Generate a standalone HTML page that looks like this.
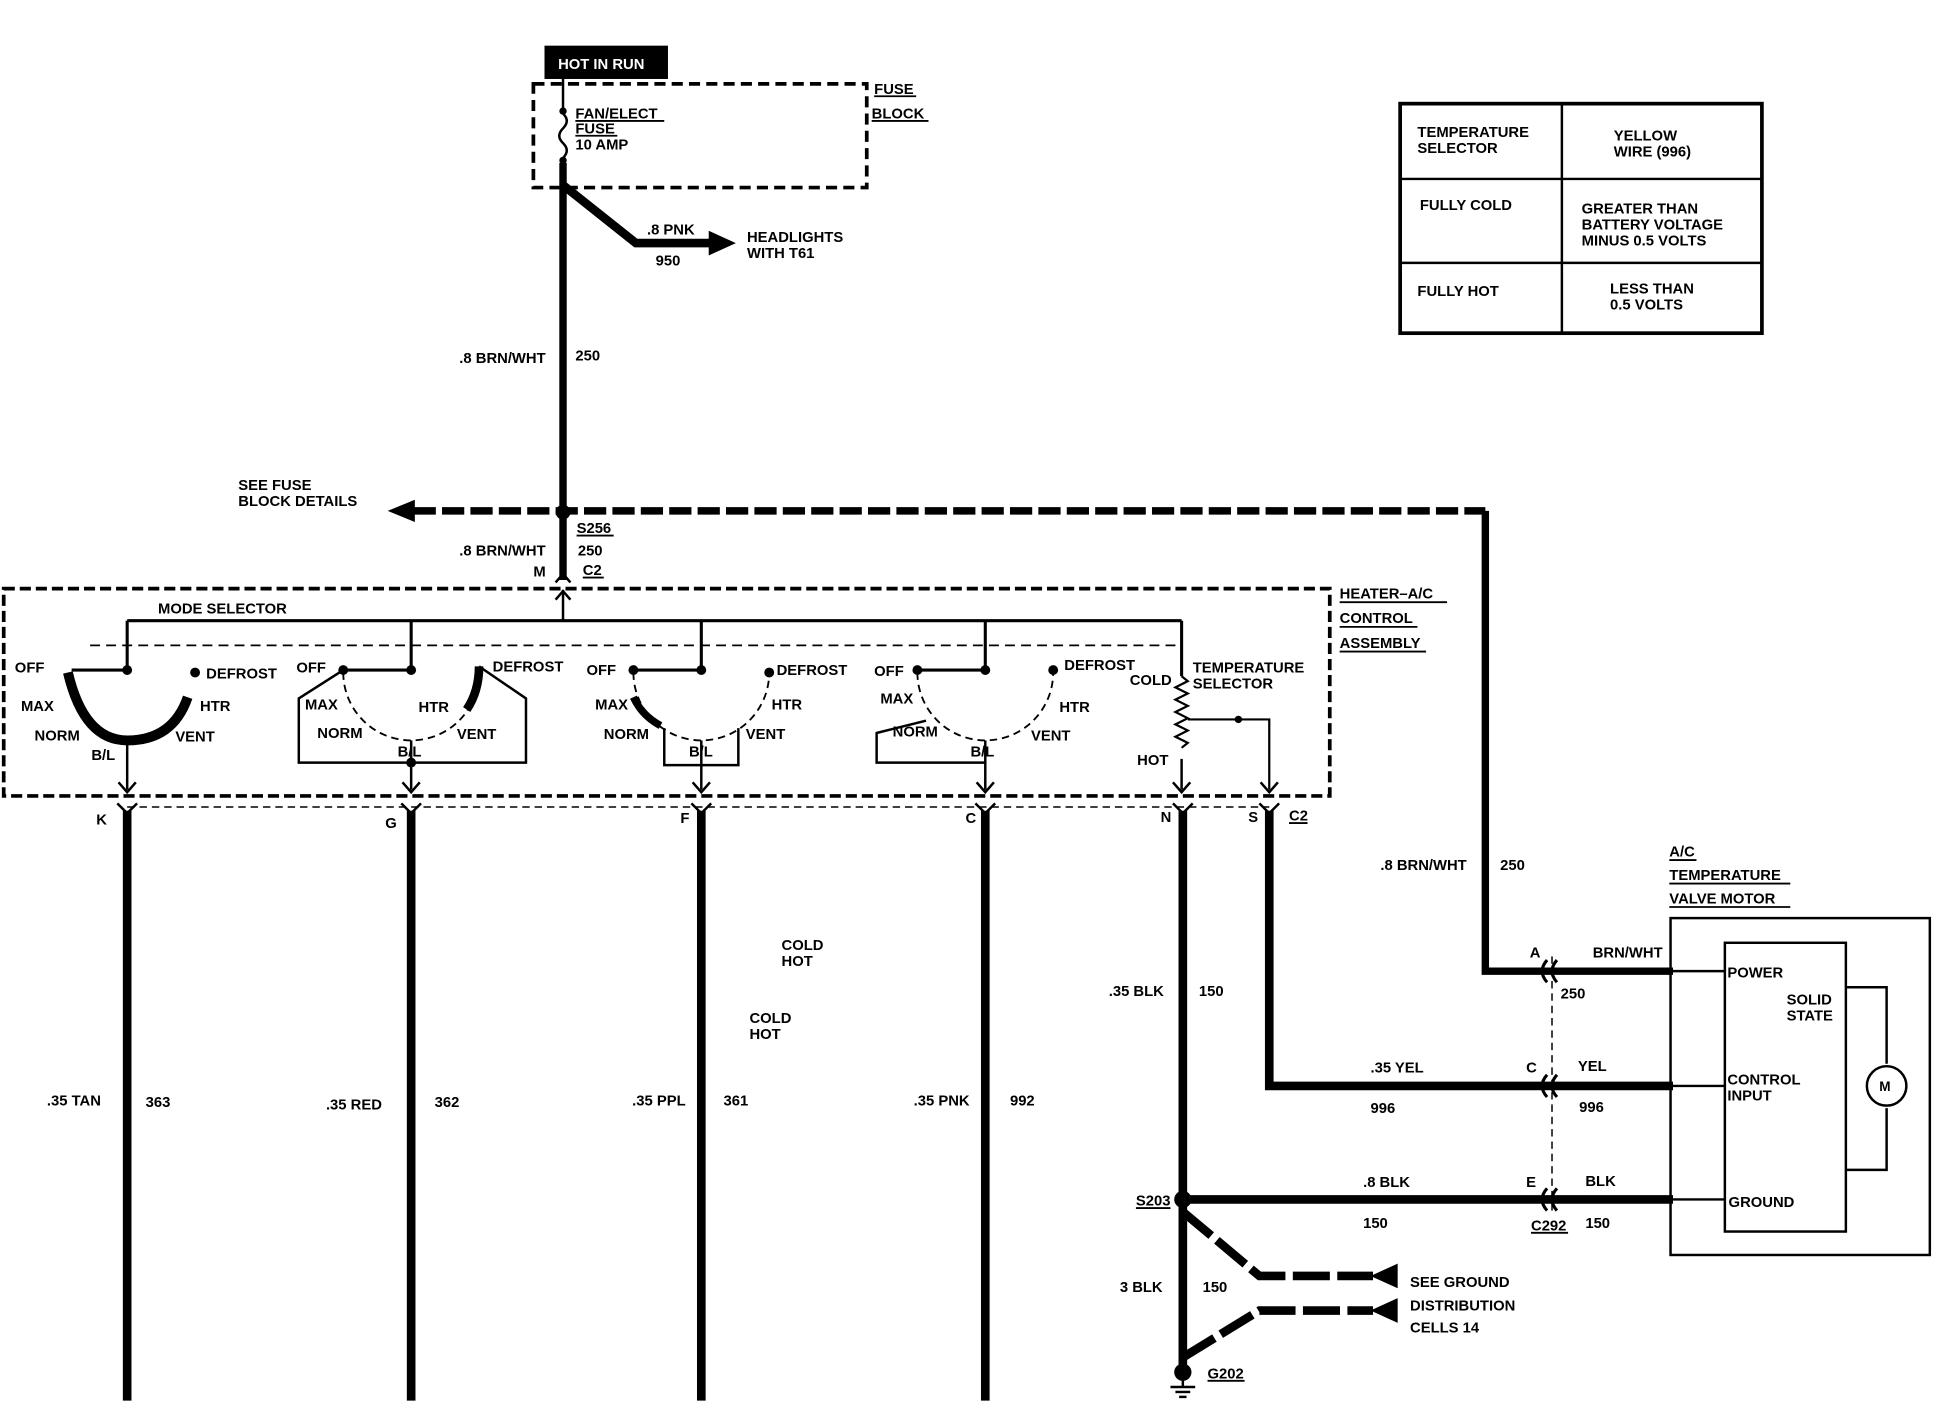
<!DOCTYPE html>
<html><head><meta charset="utf-8"><style>
html,body{margin:0;padding:0;background:#fff}
svg{display:block}
text{font-family:"Liberation Sans",Arial,sans-serif;font-weight:bold;font-size:12px;fill:#000}
</style></head><body>
<svg width="1936" height="1408" viewBox="0 0 1568 1141" preserveAspectRatio="none" xmlns="http://www.w3.org/2000/svg">
<rect width="1568" height="1141" fill="#fff"/>
<rect x="441" y="37" width="100" height="27" fill="#000"/>
<text x="452" y="56" style="fill:#fff">HOT IN RUN</text>
<rect x="432" y="68" width="270" height="84" fill="none" stroke="#000" stroke-width="3" stroke-dasharray="9,5"/>
<text x="708" y="76">FUSE</text><line x1="708" y1="78" x2="742" y2="78" stroke="#000" stroke-width="1.5"/>
<text x="706" y="96">BLOCK</text><line x1="706" y1="98" x2="752" y2="98" stroke="#000" stroke-width="1.5"/>
<line x1="456" y1="64" x2="456" y2="88" stroke="#000" stroke-width="2"/>
<circle cx="456" cy="90" r="3"/>
<path d="M456 92 q6 6 0 12 q-6 6 0 12 q6 6 0 12" fill="none" stroke="#000" stroke-width="2"/>
<circle cx="456" cy="130" r="3"/>
<text x="466" y="96">FAN/ELECT</text><line x1="466" y1="98" x2="538" y2="98" stroke="#000" stroke-width="1.5"/>
<text x="466" y="108">FUSE</text><line x1="466" y1="110" x2="500" y2="110" stroke="#000" stroke-width="1.5"/>
<text x="466" y="121">10 AMP</text>
<line x1="456" y1="132" x2="456" y2="470" stroke="#000" stroke-width="6"/>
<path d="M456 150 L515 197 L578 197" fill="none" stroke="#000" stroke-width="7"/>
<polygon points="574,187 596,197 574,207" fill="#000"/>
<text x="524" y="190">.8 PNK</text>
<text x="531" y="215">950</text>
<text x="605" y="196">HEADLIGHTS</text>
<text x="605" y="209">WITH T61</text>
<text x="372" y="294">.8 BRN/WHT</text>
<text x="466" y="292">250</text>
<line x1="335" y1="414" x2="1203" y2="414" stroke="#000" stroke-width="6" stroke-dasharray="18,5"/>
<polygon points="314,414 336,405 336,423" fill="#000"/>
<polyline points="1203,414 1203,787 1355,787" fill="none" stroke="#000" stroke-width="6"/>
<circle cx="456" cy="415" r="6"/>
<text x="193" y="397">SEE FUSE</text>
<text x="193" y="410">BLOCK DETAILS</text>
<text x="467" y="432">S256</text><line x1="467" y1="434" x2="497" y2="434" stroke="#000" stroke-width="1.5"/>
<text x="372" y="450">.8 BRN/WHT</text>
<text x="468" y="450">250</text>
<text x="432" y="467">M</text>
<text x="472" y="466">C2</text><line x1="472" y1="468" x2="489" y2="468" stroke="#000" stroke-width="1.5"/>
<path d="M450 472 L456 465 L462 472" fill="none" stroke="#000" stroke-width="2"/>
<rect x="3" y="477" width="1074" height="168" fill="none" stroke="#000" stroke-width="3" stroke-dasharray="9,4"/>
<text x="1085" y="485">HEATER–A/C</text><line x1="1085" y1="488" x2="1172" y2="488" stroke="#000" stroke-width="1.5"/>
<text x="1085" y="505">CONTROL</text><line x1="1085" y1="508" x2="1148" y2="508" stroke="#000" stroke-width="1.5"/>
<text x="1085" y="525">ASSEMBLY</text><line x1="1085" y1="528" x2="1155" y2="528" stroke="#000" stroke-width="1.5"/>
<text x="128" y="497">MODE SELECTOR</text>
<line x1="103" y1="503" x2="957" y2="503" stroke="#000" stroke-width="2.5"/>
<line x1="456" y1="478" x2="456" y2="503" stroke="#000" stroke-width="2"/>
<path d="M450 486 L456 479 L462 486" fill="none" stroke="#000" stroke-width="2"/>
<line x1="73" y1="523" x2="957" y2="523" stroke="#000" stroke-width="1.5" stroke-dasharray="8,5"/>
<g stroke="#000" stroke-width="2.5" fill="none">
<line x1="103" y1="503" x2="103" y2="543"/><line x1="58" y1="543" x2="103" y2="543"/>
<line x1="333" y1="503" x2="333" y2="543"/><line x1="278" y1="543" x2="333" y2="543"/>
<line x1="568" y1="503" x2="568" y2="543"/><line x1="513" y1="543" x2="568" y2="543"/>
<line x1="798" y1="503" x2="798" y2="543"/><line x1="743" y1="543" x2="798" y2="543"/>
<line x1="957" y1="503" x2="957" y2="548"/>
</g>
<path d="M55 545 Q68 600 103 600 Q140 600 152 565" fill="none" stroke="#000" stroke-width="8"/>
<circle cx="103" cy="543" r="4"/><circle cx="158" cy="545" r="4"/>
<line x1="103" y1="600" x2="103" y2="640" stroke="#000" stroke-width="2"/>
<text x="12" y="545">OFF</text><text x="167" y="550">DEFROST</text><text x="17" y="576">MAX</text><text x="162" y="576">HTR</text><text x="28" y="600">NORM</text><text x="142" y="601">VENT</text><text x="74" y="616">B/L</text>
<polyline points="278,543 242,566 242,618 426,618 426,566 388,540" fill="none" stroke="#000" stroke-width="2"/>
<path d="M278 545 A55 55 0 0 0 388 545" fill="none" stroke="#000" stroke-width="1.5" stroke-dasharray="6,4"/>
<path d="M378 575 Q388 560 388 540" fill="none" stroke="#000" stroke-width="7"/>
<circle cx="278" cy="543" r="4"/><circle cx="333" cy="543" r="4"/><circle cx="333" cy="618" r="4"/>
<line x1="333" y1="600" x2="333" y2="640" stroke="#000" stroke-width="2"/>
<text x="240" y="545">OFF</text><text x="399" y="544">DEFROST</text><text x="247" y="575">MAX</text><text x="339" y="577">HTR</text><text x="257" y="598">NORM</text><text x="370" y="599">VENT</text><text x="322" y="613">B/L</text>
<path d="M513 545 A55 55 0 0 0 623 545" fill="none" stroke="#000" stroke-width="1.5" stroke-dasharray="6,4"/>
<path d="M513 565 Q520 580 535 588" fill="none" stroke="#000" stroke-width="6"/>
<polyline points="538,590 538,620 598,620 598,590" fill="none" stroke="#000" stroke-width="2"/>
<circle cx="513" cy="543" r="4"/><circle cx="568" cy="543" r="4"/><circle cx="623" cy="545" r="4"/>
<line x1="568" y1="600" x2="568" y2="640" stroke="#000" stroke-width="2"/>
<text x="475" y="547">OFF</text><text x="629" y="547">DEFROST</text><text x="482" y="575">MAX</text><text x="625" y="575">HTR</text><text x="489" y="599">NORM</text><text x="604" y="599">VENT</text><text x="558" y="613">B/L</text>
<path d="M743 545 A55 55 0 0 0 853 545" fill="none" stroke="#000" stroke-width="1.5" stroke-dasharray="6,4"/>
<polyline points="750,584 710,594 710,618 798,618" fill="none" stroke="#000" stroke-width="2"/>
<circle cx="743" cy="543" r="4"/><circle cx="798" cy="543" r="4"/><circle cx="853" cy="543" r="4"/>
<line x1="798" y1="600" x2="798" y2="640" stroke="#000" stroke-width="2"/>
<text x="708" y="548">OFF</text><text x="862" y="543">DEFROST</text><text x="713" y="570">MAX</text><text x="858" y="577">HTR</text><text x="723" y="597">NORM</text><text x="835" y="600">VENT</text><text x="786" y="613">B/L</text>
<text x="915" y="555">COLD</text><text x="966" y="545">TEMPERATURE</text><text x="966" y="558">SELECTOR</text><text x="921" y="620">HOT</text>
<path d="M957 548 l5 4 l-10 5 l10 5 l-10 5 l10 5 l-10 5 l10 5 l-10 5 l10 5 l-10 5 l10 5 l-5 4" fill="none" stroke="#000" stroke-width="1.8"/>
<line x1="957" y1="615" x2="957" y2="640" stroke="#000" stroke-width="2"/>
<polyline points="962,583 1028,583 1028,640" fill="none" stroke="#000" stroke-width="1.8"/>
<circle cx="1003" cy="583" r="3"/>
<g fill="none" stroke="#000" stroke-width="2">
<path d="M96 634 L103 642 L110 634"/><path d="M326 634 L333 642 L340 634"/><path d="M561 634 L568 642 L575 634"/><path d="M791 634 L798 642 L805 634"/><path d="M950 634 L957 642 L964 634"/><path d="M1021 634 L1028 642 L1035 634"/>
<path d="M95 651 L103 659 L111 651"/><path d="M325 651 L333 659 L341 651"/><path d="M560 651 L568 659 L576 651"/><path d="M790 651 L798 659 L806 651"/><path d="M950 651 L958 659 L966 651"/><path d="M1020 651 L1028 659 L1036 651"/>
</g>
<line x1="103" y1="654" x2="1028" y2="654" stroke="#000" stroke-width="1.2" stroke-dasharray="6,4"/>
<g stroke="#000" stroke-width="7">
<line x1="103" y1="657" x2="103" y2="1135"/><line x1="333" y1="657" x2="333" y2="1135"/><line x1="568" y1="657" x2="568" y2="1135"/><line x1="798" y1="657" x2="798" y2="1135"/>
<line x1="958" y1="657" x2="958" y2="1112"/>
</g>
<polyline points="1028,657 1028,880 1355,880" fill="none" stroke="#000" stroke-width="7"/>
<line x1="958" y1="972" x2="1355" y2="972" stroke="#000" stroke-width="7"/>
<text x="78" y="668">K</text><text x="312" y="671">G</text><text x="551" y="667">F</text><text x="782" y="667">C</text><text x="940" y="666">N</text><text x="1011" y="666">S</text>
<text x="1044" y="665">C2</text><line x1="1044" y1="667" x2="1059" y2="667" stroke="#000" stroke-width="1.5"/>
<text x="38" y="896">.35 TAN</text><text x="118" y="897">363</text>
<text x="264" y="899">.35 RED</text><text x="352" y="897">362</text>
<text x="512" y="896">.35 PPL</text><text x="586" y="896">361</text>
<text x="740" y="896">.35 PNK</text><text x="818" y="896">992</text>
<text x="633" y="770">COLD</text><text x="633" y="783">HOT</text>
<text x="607" y="829">COLD</text><text x="607" y="842">HOT</text>
<text x="898" y="807">.35 BLK</text><text x="971" y="807">150</text>
<text x="1118" y="705">.8 BRN/WHT</text><text x="1215" y="705">250</text>
<text x="1352" y="694">A/C</text><line x1="1352" y1="697" x2="1374" y2="697" stroke="#000" stroke-width="1.5"/>
<text x="1352" y="713">TEMPERATURE</text><line x1="1352" y1="716" x2="1450" y2="716" stroke="#000" stroke-width="1.5"/>
<text x="1352" y="732">VALVE MOTOR</text><line x1="1352" y1="735" x2="1450" y2="735" stroke="#000" stroke-width="1.5"/>
<rect x="1353" y="744" width="210" height="273" fill="none" stroke="#000" stroke-width="2"/>
<rect x="1397" y="764" width="98" height="234" fill="none" stroke="#000" stroke-width="2"/>
<text x="1399" y="792">POWER</text><text x="1447" y="814">SOLID</text><text x="1447" y="827">STATE</text>
<text x="1399" y="879">CONTROL</text><text x="1399" y="892">INPUT</text><text x="1400" y="978">GROUND</text>
<polyline points="1495,800 1528,800 1528,862" fill="none" stroke="#000" stroke-width="2"/>
<polyline points="1528,898 1528,948 1495,948" fill="none" stroke="#000" stroke-width="2"/>
<circle cx="1528" cy="880" r="16" fill="#fff" stroke="#000" stroke-width="2"/>
<text x="1522" y="884" style="font-size:11px">M</text>
<line x1="1355" y1="787" x2="1397" y2="787" stroke="#000" stroke-width="2"/>
<line x1="1355" y1="880" x2="1397" y2="880" stroke="#000" stroke-width="2"/>
<line x1="1355" y1="972" x2="1397" y2="972" stroke="#000" stroke-width="2"/>
<line x1="1257" y1="775" x2="1257" y2="985" stroke="#000" stroke-width="1.2" stroke-dasharray="6,4"/>
<g fill="none" stroke="#000" stroke-width="2.5">
<path d="M1253 778 q-8 9 0 18"/><path d="M1261 778 q-8 9 0 18"/>
<path d="M1253 871 q-8 9 0 18"/><path d="M1261 871 q-8 9 0 18"/>
<path d="M1253 963 q-8 9 0 18"/><path d="M1261 963 q-8 9 0 18"/>
</g>
<text x="1239" y="776">A</text><text x="1290" y="776">BRN/WHT</text><text x="1264" y="809">250</text>
<text x="1110" y="869">.35 YEL</text><text x="1236" y="869">C</text><text x="1278" y="868">YEL</text><text x="1110" y="902">996</text><text x="1279" y="901">996</text>
<text x="1104" y="962">.8 BLK</text><text x="1236" y="962">E</text><text x="1284" y="961">BLK</text><text x="1104" y="995">150</text>
<text x="1240" y="997">C292</text><line x1="1240" y1="999" x2="1270" y2="999" stroke="#000" stroke-width="1.5"/>
<text x="1284" y="995">150</text>
<circle cx="958" cy="972" r="7"/>
<text x="920" y="977">S203</text><line x1="920" y1="979" x2="948" y2="979" stroke="#000" stroke-width="1.5"/>
<path d="M958 982 L1020 1034 L1112 1034" fill="none" stroke="#000" stroke-width="7" stroke-dasharray="30,6"/>
<path d="M958 1100 L1020 1062 L1112 1062" fill="none" stroke="#000" stroke-width="7" stroke-dasharray="30,6"/>
<polygon points="1110,1034 1132,1024 1132,1044" fill="#000"/>
<polygon points="1110,1062 1132,1052 1132,1072" fill="#000"/>
<text x="1142" y="1043">SEE GROUND</text><text x="1142" y="1062">DISTRIBUTION</text><text x="1142" y="1080">CELLS 14</text>
<text x="907" y="1047">3 BLK</text><text x="974" y="1047">150</text>
<circle cx="958" cy="1112" r="7"/>
<line x1="958" y1="1118" x2="958" y2="1124" stroke="#000" stroke-width="2"/>
<line x1="948" y1="1124" x2="968" y2="1124" stroke="#000" stroke-width="2"/>
<line x1="952" y1="1128" x2="964" y2="1128" stroke="#000" stroke-width="2"/>
<line x1="955" y1="1132" x2="961" y2="1132" stroke="#000" stroke-width="2"/>
<text x="978" y="1117">G202</text><line x1="978" y1="1119" x2="1008" y2="1119" stroke="#000" stroke-width="1.5"/>
<rect x="1134" y="84" width="293" height="186" fill="none" stroke="#000" stroke-width="3"/>
<line x1="1265" y1="84" x2="1265" y2="270" stroke="#000" stroke-width="2"/>
<line x1="1134" y1="145" x2="1427" y2="145" stroke="#000" stroke-width="2"/>
<line x1="1134" y1="213" x2="1427" y2="213" stroke="#000" stroke-width="2"/>
<text x="1148" y="111">TEMPERATURE</text><text x="1148" y="124">SELECTOR</text>
<text x="1307" y="114">YELLOW</text><text x="1307" y="127">WIRE (996)</text>
<text x="1150" y="170">FULLY COLD</text>
<text x="1281" y="173">GREATER THAN</text><text x="1281" y="186">BATTERY VOLTAGE</text><text x="1281" y="199">MINUS 0.5 VOLTS</text>
<text x="1148" y="240">FULLY HOT</text>
<text x="1304" y="238">LESS THAN</text><text x="1304" y="251">0.5 VOLTS</text>
</svg>
</body></html>
